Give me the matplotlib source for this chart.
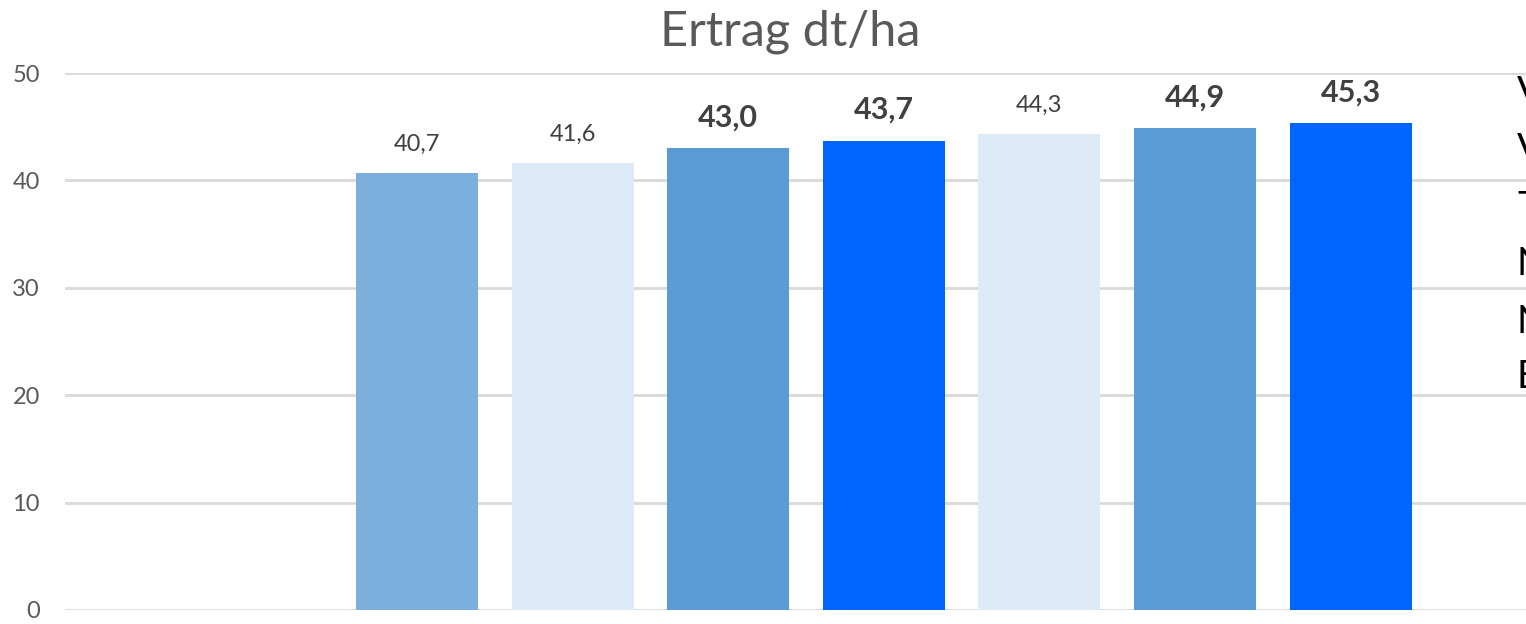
import matplotlib
matplotlib.use('Agg')
import matplotlib.pyplot as plt
import numpy as np

values = [40.7, 41.6, 43.0, 43.7, 44.3, 44.9, 45.3]
labels = ['40,7', '41,6', '43,0', '43,7', '44,3', '44,9', '45,3']
bold = [False, False, True, True, False, True, True]
colors = ['#7DAFDD', '#DEEAF6', '#5B9BD5', '#0066FF', '#DEEAF6', '#5B9BD5', '#0066FF']
yticks = [0, 10, 20, 30, 40, 50]
legend_letters = ['V', 'V', 'T', 'N', 'N', 'E']
legend_y = [93, 150, 208, 264, 322, 377]

plt.rcParams['font.family'] = ['Lato', 'DejaVu Sans']

fig = plt.figure(figsize=(15.26, 6.24), dpi=100)
W, H = 1526, 624
ax = fig.add_axes([65 / W, (H - 610) / H, 1 - 65 / W, (610 - 73) / H])

x = np.arange(len(values))
ax.bar(x, values, width=0.784, color=colors, zorder=3)

for xi, v, lab, b in zip(x, values, labels, bold):
    ax.annotate(lab, (xi, v), xytext=(0, 12 if b else 13), textcoords='offset points',
                ha='center', va='bottom', color='#404040',
                fontsize=22 if b else 17, fontweight='bold' if b else 'normal')

ax.set_xlim(-2.262, 7.127)
ax.set_ylim(0, 50)
ax.set_yticks(yticks)
ax.set_yticklabels([str(t) for t in yticks], color='#595959', fontsize=17)
ax.set_xticks([])
ax.tick_params(axis='y', length=0, pad=18)
ax.grid(axis='y', color='#D9D9D9', linewidth=2, zorder=0)
for s in ax.spines.values():
    s.set_visible(False)

fig.text(790 / W, 1 - 32 / H, 'Ertrag dt/ha', ha='center', va='center',
         fontsize=35, color='#595959')

for letter, ly in zip(legend_letters, legend_y):
    fig.text(1517 / W, 1 - ly / H, letter, ha='left', va='center',
             fontsize=28, color='black')

fig.savefig('out.png', dpi=100)
